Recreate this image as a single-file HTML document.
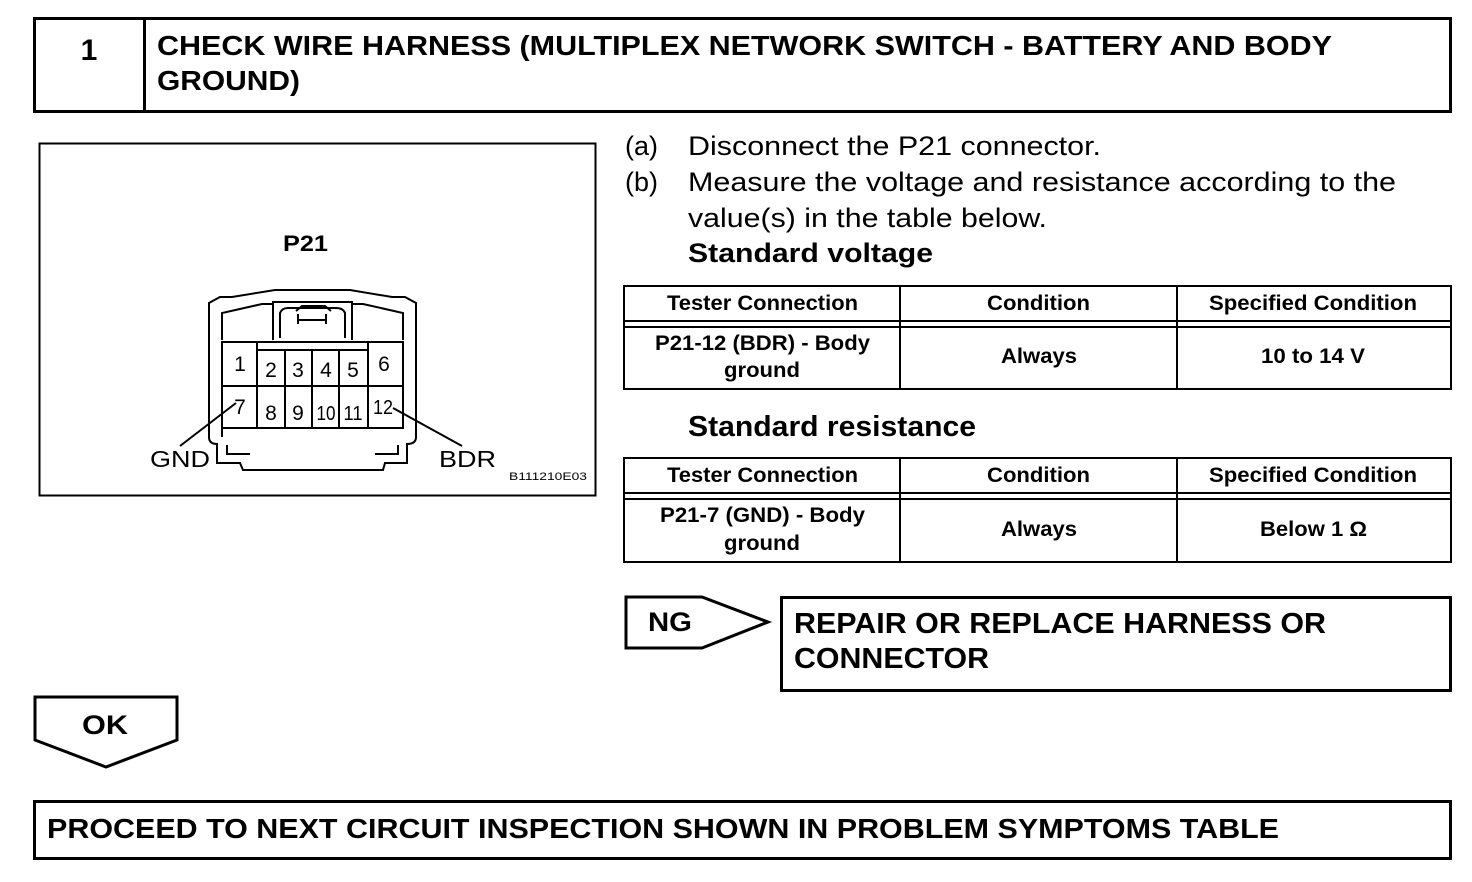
<!DOCTYPE html>
<html><head><meta charset="utf-8"><style>
body{margin:0;background:#fff}
svg{display:block}
text{font-family:"Liberation Sans",Arial,sans-serif;fill:#000}
.b{font-weight:bold}
</style></head><body>
<svg width="1472" height="882" viewBox="0 0 1472 882" xmlns="http://www.w3.org/2000/svg">
<rect x="34.5" y="18.5" width="1416" height="93" fill="none" stroke="#000" stroke-width="3"/>
<line x1="144.5" y1="18" x2="144.5" y2="112" stroke="#000" stroke-width="3"/>
<text x="89" y="60" class="b" font-size="30" text-anchor="middle">1</text>
<text x="157" y="55" class="b" font-size="28" textLength="1175" lengthAdjust="spacingAndGlyphs">CHECK WIRE HARNESS (MULTIPLEX NETWORK SWITCH - BATTERY AND BODY</text>
<text x="157" y="90" class="b" font-size="28" textLength="143" lengthAdjust="spacingAndGlyphs">GROUND)</text>

<rect x="39.5" y="143.5" width="556" height="352" fill="none" stroke="#000" stroke-width="2"/>
<text x="283" y="251" class="b" font-size="22" textLength="45" lengthAdjust="spacingAndGlyphs">P21</text>
<g fill="none" stroke="#000" stroke-width="2">
<path d="M209,437 L209,303 L220,297 L232,297 L275,290 L350,290 L392,297 L405,297 L416,303 L416,437"/>
<path d="M209,437 Q209,444 217,444 L217,463 L240,463 L243,470 L383,470 L385,463 L407,463 L407,444 Q416,444 416,437"/>
<path d="M222,340 L222,313 L262,304 L273,304 L273,340"/>
<path d="M403,340 L403,313 L363,304 L352,304 L352,340"/>
<path d="M273,340 L273,302 L352,302 L352,340"/>
<path d="M280,338 L280,313 Q282,308 288,308 L336,308 Q343,308 345,313 L345,338"/>
<path d="M296,311 L302,306 L325,306 L331,311"/>
<line x1="298" y1="320" x2="326" y2="320"/>
<line x1="298" y1="314" x2="298" y2="324"/><line x1="326" y1="314" x2="326" y2="324"/>
<rect x="222" y="342" width="181" height="86"/>
<line x1="222" y1="386" x2="403" y2="386"/>
<line x1="257" y1="342" x2="257" y2="428"/>
<line x1="368" y1="342" x2="368" y2="428"/>
<line x1="257" y1="350" x2="368" y2="350"/>
<line x1="285" y1="350" x2="285" y2="428"/>
<line x1="312" y1="350" x2="312" y2="428"/>
<line x1="339" y1="350" x2="339" y2="428"/>
<line x1="222" y1="428" x2="222" y2="437"/>
<path d="M227,445 L227,454 L250,454"/>
<path d="M398,445 L398,454 L375,454"/>
<line x1="180" y1="446" x2="236" y2="403"/>
<line x1="462" y1="446" x2="393" y2="408"/>
</g>
<g font-size="21" text-anchor="middle">
<text x="240" y="371">1</text>
<text x="271" y="377">2</text><text x="298" y="377">3</text><text x="326" y="377">4</text><text x="353" y="377">5</text>
<text x="384" y="371">6</text>
<text x="240" y="414">7</text>
<text x="271" y="420">8</text><text x="298" y="420">9</text>
<text x="326" y="420" font-size="20" textLength="19" lengthAdjust="spacingAndGlyphs">10</text>
<text x="353" y="420" font-size="20" textLength="19" lengthAdjust="spacingAndGlyphs">11</text>
<text x="383" y="414" font-size="20" textLength="20" lengthAdjust="spacingAndGlyphs">12</text>
</g>
<text x="150" y="467" font-size="23" textLength="60" lengthAdjust="spacingAndGlyphs">GND</text>
<text x="439" y="467" font-size="23" textLength="57" lengthAdjust="spacingAndGlyphs">BDR</text>
<text x="509" y="480" font-size="11" textLength="78" lengthAdjust="spacingAndGlyphs">B111210E03</text>

<g font-size="27">
<text x="625" y="155">(a)</text><text x="688" y="155" textLength="413" lengthAdjust="spacingAndGlyphs">Disconnect the P21 connector.</text>
<text x="625" y="191">(b)</text><text x="688" y="191" textLength="708" lengthAdjust="spacingAndGlyphs">Measure the voltage and resistance according to the</text>
<text x="688" y="227" textLength="359" lengthAdjust="spacingAndGlyphs">value(s) in the table below.</text>
</g>
<text x="688" y="262" class="b" font-size="27" textLength="245" lengthAdjust="spacingAndGlyphs">Standard voltage</text>
<text x="688" y="436" class="b" font-size="29" textLength="288" lengthAdjust="spacingAndGlyphs">Standard resistance</text>

<g fill="none" stroke="#000" stroke-width="2">
<rect x="624" y="286" width="827" height="103"/>
<line x1="624" y1="321" x2="1451" y2="321"/>
<line x1="624" y1="327" x2="1451" y2="327"/>
<line x1="900" y1="286" x2="900" y2="389"/>
<line x1="1177" y1="286" x2="1177" y2="389"/>
<rect x="624" y="458" width="827" height="104"/>
<line x1="624" y1="493" x2="1451" y2="493"/>
<line x1="624" y1="499" x2="1451" y2="499"/>
<line x1="900" y1="458" x2="900" y2="562"/>
<line x1="1177" y1="458" x2="1177" y2="562"/>
</g>
<g font-size="21" font-weight="bold" lengthAdjust="spacingAndGlyphs">
<text x="667" y="310" textLength="191" lengthAdjust="spacingAndGlyphs">Tester Connection</text>
<text x="987" y="310" textLength="103" lengthAdjust="spacingAndGlyphs">Condition</text>
<text x="1209" y="310" textLength="208" lengthAdjust="spacingAndGlyphs">Specified Condition</text>
<text x="655" y="350" textLength="215" lengthAdjust="spacingAndGlyphs">P21-12 (BDR) - Body</text>
<text x="724" y="377" textLength="76" lengthAdjust="spacingAndGlyphs">ground</text>
<text x="1001" y="363" textLength="76" lengthAdjust="spacingAndGlyphs">Always</text>
<text x="1261" y="363" textLength="104" lengthAdjust="spacingAndGlyphs">10 to 14 V</text>
<text x="667" y="482" textLength="191" lengthAdjust="spacingAndGlyphs">Tester Connection</text>
<text x="987" y="482" textLength="103" lengthAdjust="spacingAndGlyphs">Condition</text>
<text x="1209" y="482" textLength="208" lengthAdjust="spacingAndGlyphs">Specified Condition</text>
<text x="660" y="522" textLength="205" lengthAdjust="spacingAndGlyphs">P21-7 (GND) - Body</text>
<text x="724" y="550" textLength="76" lengthAdjust="spacingAndGlyphs">ground</text>
<text x="1001" y="536" textLength="76" lengthAdjust="spacingAndGlyphs">Always</text>
<text x="1260" y="536" textLength="107" lengthAdjust="spacingAndGlyphs">Below 1 Ω</text>
</g>

<path d="M626,597 L702,597 L768,622 L702,648 L626,648 Z" fill="none" stroke="#000" stroke-width="3"/>
<text x="648" y="631" class="b" font-size="27" textLength="44" lengthAdjust="spacingAndGlyphs">NG</text>
<rect x="781.5" y="597.5" width="669" height="93" fill="none" stroke="#000" stroke-width="3"/>
<text x="794" y="633" class="b" font-size="29" textLength="532" lengthAdjust="spacingAndGlyphs">REPAIR OR REPLACE HARNESS OR</text>
<text x="794" y="668" class="b" font-size="29" textLength="195" lengthAdjust="spacingAndGlyphs">CONNECTOR</text>

<path d="M35,697 L177,697 L177,740 L106,767 L35,740 Z" fill="none" stroke="#000" stroke-width="3"/>
<text x="82" y="734" class="b" font-size="27" textLength="46" lengthAdjust="spacingAndGlyphs">OK</text>

<rect x="34.5" y="801.5" width="1416" height="57" fill="none" stroke="#000" stroke-width="3"/>
<text x="47" y="838" class="b" font-size="28" textLength="1232" lengthAdjust="spacingAndGlyphs">PROCEED TO NEXT CIRCUIT INSPECTION SHOWN IN PROBLEM SYMPTOMS TABLE</text>
</svg>
</body></html>
